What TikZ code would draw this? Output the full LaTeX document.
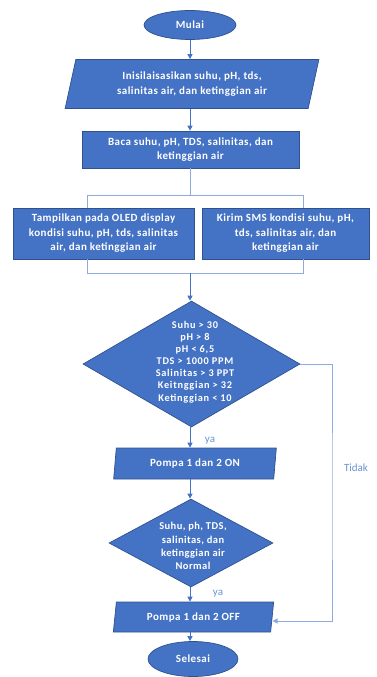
\documentclass[tikz,border=0pt]{standalone}
\usepackage{fontspec}
\setmainfont{Carlito}
\newfontfamily\boxfont[LetterSpace=4]{Carlito}
\newfontfamily\condfont[LetterSpace=7]{Carlito}
\usetikzlibrary{shapes.geometric,arrows.meta}
\definecolor{boxblue}{HTML}{4472C4}
\definecolor{boxedge}{HTML}{2F528F}
\definecolor{arrowblue}{HTML}{4472C4}
\definecolor{thinblue}{HTML}{8FAADC}
\definecolor{labblue}{HTML}{6A93D4}
\begin{document}
\begin{tikzpicture}[x=1pt,y=-1pt,
  base/.style={fill=boxblue,draw=boxedge,line width=0.7pt,text=white,align=center,inner sep=0pt,
    font=\boxfont\bfseries\fontsize{11}{14.5}\selectfont},
  term/.style={base,ellipse},
  proc/.style={base,rectangle},
  io/.style={base,trapezium,trapezium stretches=true},
  decide/.style={base,diamond},
  dtext/.style={text=white,align=center,inner sep=0pt},
  arr/.style={draw=arrowblue,line width=0.9pt,-{Triangle[length=5pt,width=5pt]}},
  thin/.style={draw=thinblue,line width=0.9pt},
  lab/.style={text=labblue,inner sep=0pt,font=\fontsize{11}{12}\selectfont}]
\useasboundingbox (0,0) rectangle (377,677);

\node[term,minimum width=92pt,minimum height=29pt] (start) at (190,25) {Mulai};
\node[io,trapezium left angle=74,trapezium right angle=106,minimum width=254pt,minimum height=49pt] (init) at (192,84)
  {Inisilaisasikan suhu, pH, tds,\\salinitas air, dan ketinggian air};
\node[proc,minimum width=217pt,minimum height=37pt] (read) at (190.5,149.5)
  {Baca suhu, pH, TDS, salinitas, dan\\ketinggian air};
\node[proc,minimum width=181pt,minimum height=51pt] (oled) at (103.5,233.5)
  {Tampilkan pada OLED display\\kondisi suhu, pH, tds, salinitas\\air, dan ketinggian air};
\node[proc,minimum width=167pt,minimum height=51pt] (sms) at (285.5,233.5)
  {Kirim SMS kondisi suhu, pH,\\tds, salinitas air, dan\\ketinggian air};
\node[decide,minimum width=217pt,minimum height=126pt] (d1) at (191.5,364) {};
\node[dtext,font=\condfont\bfseries\fontsize{10.3}{12.1}\selectfont] (d1t) at (195,362)
  {Suhu > 30\\pH > 8\\pH < 6,5\\TDS > 1000 PPM\\Salinitas > 3 PPT\\Keitnggian > 32\\Ketinggian < 10};
\node[io,trapezium left angle=81,trapezium right angle=99,minimum width=164pt,minimum height=31pt] (on) at (195,463.5)
  {Pompa 1 dan 2 ON};
\node[decide,minimum width=164pt,minimum height=88pt] (d2) at (191,543) {};
\node[dtext,font=\boxfont\bfseries\fontsize{10.5}{13.2}\selectfont] (d2t) at (193,546)
  {Suhu, ph, TDS,\\salinitas, dan\\ketinggian air\\Normal};
\node[io,trapezium left angle=79,trapezium right angle=101,minimum width=161pt,minimum height=30pt] (off) at (193.5,617)
  {Pompa 1 dan 2 OFF};
\node[term,minimum width=90pt,minimum height=35pt] (end) at (193,659) {Selesai};

\node[lab] (ya1) at (210,441) {ya};
\node[lab] (ya2) at (218,594) {ya};
\node[lab] (tidak) at (356,468) {Tidak};

% branch coordinates
\coordinate (top) at (190,195);
\coordinate (tl) at (87,195);
\coordinate (tr) at (303,195);
\coordinate (bot) at (190,273);
\coordinate (bl) at (87,273);
\coordinate (br) at (303,273);
\coordinate (tk) at (332,500);

\draw[arr] (start.south) -- (start.south |- init.north);
\draw[arr] (start.south |- init.south) -- (start.south |- read.north);
\draw[thin] (start.south |- read.south) -- (top);
\draw[thin] (tl |- oled.north) -- (tl) -- (tr) -- (tr |- sms.north);
\draw[thin] (bl |- oled.south) -- (bl) -- (br) -- (br |- sms.south);
\draw[arr] (bot) -- (bot |- d1.north);
\draw[arr] (bot |- d1.south) -- (bot |- on.north);
\draw[arr] (bot |- on.south) -- (bot |- d2.north);
\draw[arr] (bot |- d2.south) -- (bot |- off.north);
\draw[arr] (bot |- off.south) -- (bot |- end.north);
\draw[thin,-{Triangle[length=5pt,width=5pt]}] (d1.east) -| (tk) |- ([yshift=-4pt]off.east);
\end{tikzpicture}
\end{document}
